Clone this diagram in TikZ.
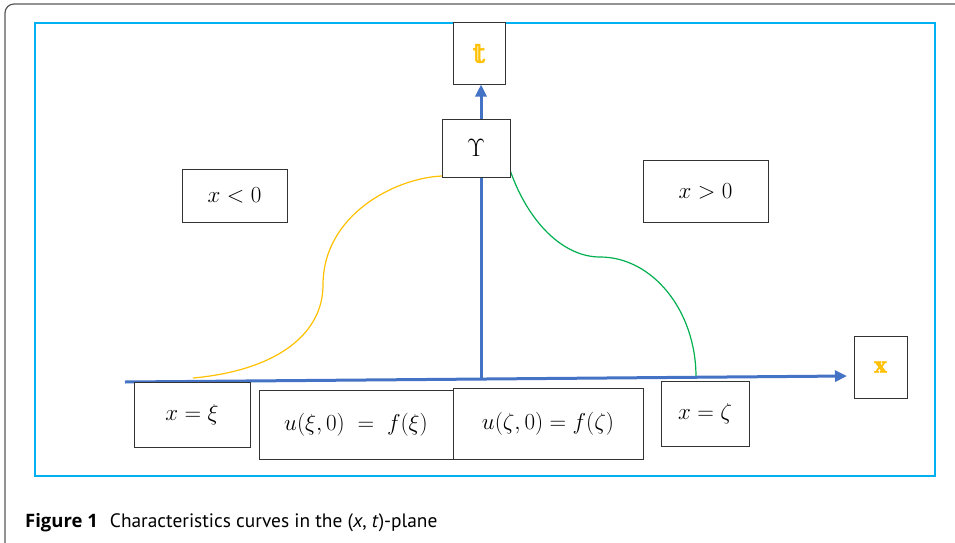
\documentclass[tikz,border=0pt]{standalone}
\usepackage{fix-cm}
\usepackage{fontspec}
\setsansfont{PT Sans}
\newfontfamily\capbold{Open Sans Bold}
\newfontfamily\dsfont[FakeBold=2]{DejaVu Serif}
\usetikzlibrary{arrows.meta}
\definecolor{frameblue}{HTML}{00B0F0}
\definecolor{axisblue}{HTML}{4472C4}
\definecolor{curveyellow}{HTML}{FFC000}
\definecolor{curvegreen}{HTML}{00B050}
\begin{document}
\begin{tikzpicture}[x=1pt,y=-1pt,
  box/.style={draw=black!80, line width=1pt, fill=white, inner sep=0pt, font=\fontsize{23}{26}\selectfont},
  axis/.style={draw=axisblue, line width=3pt},
  tip/.style={-{Triangle[length=12pt,width=11pt]}}]
\useasboundingbox (0,0) rectangle (955,543);
\begin{scope}
\clip (0,0) rectangle (955,543);
\draw[black!65, line width=1.2pt, rounded corners=9pt] (5,4) rectangle (995,552);
\end{scope}
\draw[frameblue, line width=2.2pt] (35,23) rectangle (935,476);
% curves
\draw[curveyellow, line width=1.2pt] (193,378) .. controls (280,370) and (323,332) .. (323,285) .. controls (323,215) and (395,178) .. (442,176);
\draw[curvegreen, line width=1.2pt] (510,170) .. controls (528,222) and (563,257) .. (600,257) .. controls (652,257) and (696,310) .. (696,377);
% axes
\coordinate (axL) at (125,382);
\coordinate (axR) at (847,376);
\coordinate (vb) at (481,380);
\draw[axis, tip] (axL) -- (axR);
\node[box, minimum width=68pt, minimum height=58pt] (ups) at (476,148) {\fontsize{25}{27}\selectfont$\Upsilon$};
\node[box, minimum width=52pt, minimum height=61pt, text=curveyellow] (tbox) at (479,53.5) {\fontsize{27}{29}\dsfont 𝕥};
\draw[axis] (vb) -- (vb |- ups.south);
\draw[axis, tip] (ups.north -| vb) -- (tbox.south -| vb);
\node[box, minimum width=105pt, minimum height=53pt] (xlt) at (234.5,195.5) {$x<0$};
\node[box, minimum width=125pt, minimum height=62pt] (xgt) at (705.5,191) {$x>0$};
\node[box, minimum width=53pt, minimum height=62pt, text=curveyellow] (xbox) at (880.5,367) {\fontsize{21}{23}\dsfont 𝕩};
\node[box, minimum width=116pt, minimum height=65pt] (xxi) at (192,414.5) {$x=\xi$};
\node[box, minimum width=194pt, minimum height=69pt] (uxi) at (356,424.5) {$u(\xi,0)\;=\;f(\xi)$};
\node[box, minimum width=190pt, minimum height=71pt] (uzeta) at (548,423.5) {$u(\zeta,0)=f(\zeta)$};
\node[box, minimum width=88pt, minimum height=65pt] (xzeta) at (705,413.5) {$x=\zeta$};
\node[anchor=base west, inner sep=0pt, font=\sffamily\fontsize{19.4}{22}\selectfont] (cap) at (25,527) {{\capbold\fontsize{18.5}{22}\selectfont Figure 1}\hspace{12pt}Characteristics curves in the (\textit{x}, \textit{t})-plane};
\end{tikzpicture}
\end{document}
